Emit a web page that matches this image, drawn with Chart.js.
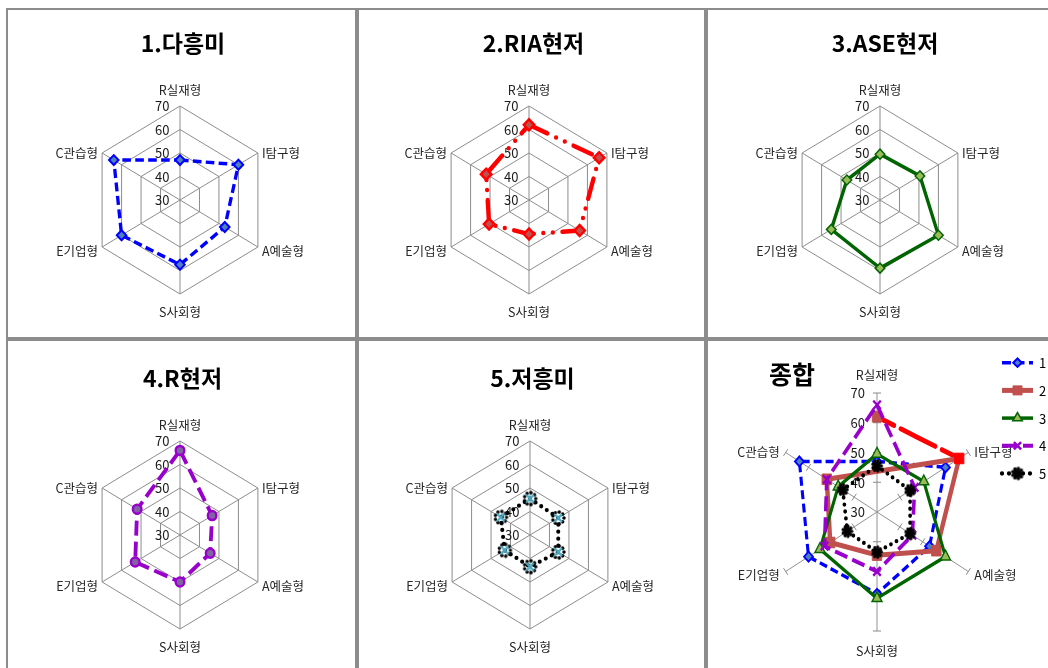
<!DOCTYPE html>
<html lang="ko">
<head>
<meta charset="utf-8">
<title>흥미 유형 집단별 프로파일</title>
<script src="https://cdn.jsdelivr.net/npm/chart.js@4.4.1/dist/chart.umd.min.js"></script>
<style>
  html, body { margin: 0; padding: 0; background: #fff; width: 1048px; height: 668px; overflow: hidden; position: relative; }
  .panel { position: absolute; box-sizing: border-box; border: 2px solid #8c8c8c; background: #fff; overflow: hidden; }
  .panel canvas { display: block; }
</style>
</head>
<body>
<div class="panel" style="left:6px;top:8px;width:351px;height:331px"><canvas id="c1"></canvas></div>
<div class="panel" style="left:357px;top:8px;width:349px;height:331px"><canvas id="c2"></canvas></div>
<div class="panel" style="left:706px;top:8px;width:350px;height:331px"><canvas id="c3"></canvas></div>
<div class="panel" style="left:6px;top:339px;width:351px;height:340px"><canvas id="c4"></canvas></div>
<div class="panel" style="left:357px;top:339px;width:349px;height:340px"><canvas id="c5"></canvas></div>
<div class="panel" style="left:706px;top:339px;width:350px;height:340px"><canvas id="c6"></canvas></div>
<script>
// RIASEC axes, clockwise from the top
const categories = ['R실재형', 'I탐구형', 'A예술형', 'S사회형', 'E기업형', 'C관습형'];
// radial scale ticks
const tickValues = [30, 40, 50, 60, 70];
// series names (legend) and panel titles
const seriesNames = ['1', '2', '3', '4', '5'];
const groupTitles = ['1.다흥미', '2.RIA현저', '3.ASE현저', '4.R현저', '5.저흥미'];
const summaryTitle = '종합';

// mean scores of each group on the six types
const group1 = [47, 60, 53, 57.5, 60, 64];
const group2 = [62, 66, 56, 44.5, 50.5, 52];
const group3 = [49.5, 50.5, 60, 59, 55, 47];
const group4 = [66, 46.5, 45.5, 50, 53, 52];
const group5 = [45.5, 44.5, 44.5, 43.5, 43, 45];
const groupValues = [group1, group2, group3, group4, group5];

const FONT = '"Noto Sans CJK KR", "Noto Sans", sans-serif';

// ---- custom marker bitmaps ----
function makeMarker(size, paint) {
  const c = document.createElement('canvas');
  c.width = c.height = size;
  paint(c.getContext('2d'), size / 2);
  return c;
}
function dotRing(g, m, ringR, dotR, n) {
  g.fillStyle = '#000';
  for (let k = 0; k < n; k++) {
    const a = k / n * Math.PI * 2;
    g.beginPath();
    g.arc(m + ringR * Math.cos(a), m + ringR * Math.sin(a), dotR, 0, Math.PI * 2);
    g.fill();
  }
}
const cyanCross = makeMarker(18, (g, m) => {
  dotRing(g, m, 6, 1.8, 9);
  g.strokeStyle = '#4BACC6';
  g.lineWidth = 2.4;
  g.beginPath();
  g.moveTo(m - 4, m - 4); g.lineTo(m + 4, m + 4);
  g.moveTo(m + 4, m - 4); g.lineTo(m - 4, m + 4);
  g.stroke();
});
const blackBlob = makeMarker(16, (g, m) => {
  dotRing(g, m, 5, 1.8, 9);
  g.beginPath(); g.arc(m, m, 4, 0, Math.PI * 2); g.fill();
});

const DASH_DOT = [21, 10, 0, 10, 0, 10];

// line / marker styles for the single-group panels
const singleStyles = [
  { color: '#0000FF', width: 3.5, dash: [9, 4.5], cap: 'butt', point: 'rectRot', radius: 5, fill: '#4F81BD', edge: '#0000FF', edgeWidth: 2 },
  { color: '#FF0000', width: 4.5, dash: DASH_DOT, cap: 'round', point: 'rectRot', radius: 5.5, fill: '#C0504D', edge: '#FF0000', edgeWidth: 2.5 },
  { color: '#006400', width: 3.5, dash: [], cap: 'butt', point: 'rectRot', radius: 5, fill: '#9BBB59', edge: '#006400', edgeWidth: 1.5 },
  { color: '#9900CC', width: 4, dash: [15, 6], cap: 'butt', point: 'circle', radius: 4.5, fill: '#8064A2', edge: '#9900CC', edgeWidth: 2.5 },
  { color: '#000000', width: 4.3, dash: [0, 7], cap: 'round', point: cyanCross, radius: 6, fill: '#000000', edge: '#000000', edgeWidth: 0 }
];
// line / marker styles for the combined panel
const summaryStyles = [
  singleStyles[0],
  { color: '#C0504D', width: 5, dash: [], cap: 'butt', point: 'rect', radius: 7.5, fill: '#C0504D', edge: '#C0504D', edgeWidth: 1,
    firstSegment: { color: '#FF0000', dash: DASH_DOT, cap: 'round' }, accentIndex: 1, accentColor: '#FF0000' },
  { color: '#006400', width: 3.5, dash: [], cap: 'butt', point: 'triangle', radius: 6.5, fill: '#9BBB59', edge: '#006400', edgeWidth: 1.5 },
  { color: '#9900CC', width: 4, dash: [15, 6], cap: 'butt', point: 'crossRot', radius: 6, fill: '#9900CC', edge: '#9900CC', edgeWidth: 2.5 },
  { color: '#000000', width: 4.3, dash: [0, 7], cap: 'round', point: blackBlob, radius: 6, fill: '#000000', edge: '#000000', edgeWidth: 0 }
];

function makeDataset(i, st) {
  const data = groupValues[i];
  const ds = {
    label: seriesNames[i],
    data: data,
    borderColor: st.color,
    borderWidth: st.width,
    borderDash: st.dash,
    borderCapStyle: st.cap,
    borderJoinStyle: 'round',
    backgroundColor: 'rgba(0,0,0,0)',
    fill: false,
    clip: false,
    pointStyle: st.point,
    pointRadius: st.radius,
    pointHoverRadius: st.radius,
    pointBackgroundColor: st.fill,
    pointBorderColor: st.edge,
    pointBorderWidth: st.edgeWidth,
    order: 10 - i
  };
  if (st.accentIndex !== undefined) {
    ds.pointBackgroundColor = data.map((v, k) => k === st.accentIndex ? st.accentColor : st.fill);
    ds.pointBorderColor = data.map((v, k) => k === st.accentIndex ? st.accentColor : st.edge);
  }
  if (st.firstSegment) {
    const f = st.firstSegment;
    ds.segment = {
      borderColor: c => c.p0DataIndex === 0 ? f.color : undefined,
      borderDash: c => c.p0DataIndex === 0 ? f.dash : undefined,
      borderCapStyle: c => c.p0DataIndex === 0 ? f.cap : undefined
    };
  }
  return ds;
}

// radar lines do not pick up per-segment styling by themselves; hand it to the line element
const segmentStyling = {
  id: 'segmentStyling',
  afterDatasetUpdate(chart, args) {
    const ds = chart.data.datasets[args.index];
    if (!ds.segment) return;
    try {
      const line = args.meta.dataset;
      const seg = args.meta.controller.options.segment;
      line._chart = chart;
      line._datasetIndex = args.index;
      line.options = Object.assign({}, line.options, { segment: seg });
      delete line._segments;
      delete line._path;
    } catch (e) { /* keep the plain line */ }
  }
};

// draws the slightly wide radar, axis text, titles and the legend
const radarDecor = {
  id: 'radarDecor',
  beforeDraw(chart, args, o) {
    const s = chart.scales.r, ctx = chart.ctx;
    ctx.save();
    ctx.translate(s.xCenter, 0);
    ctx.scale(o.sx, 1);
    ctx.translate(-s.xCenter, 0);
  },
  beforeDatasetsDraw(chart, args, o) {
    const s = chart.scales.r, ctx = chart.ctx;
    const cx = s.xCenter;
    const n = chart.data.labels.length;
    const sq = p => ({ x: cx + (p.x - cx) * o.sx, y: p.y });
    ctx.save();
    const dpr = chart.currentDevicePixelRatio || 1;
    ctx.setTransform(dpr, 0, 0, dpr, 0, 0);

    if (o.tickMarks) {
      ctx.strokeStyle = '#8a8a8a';
      ctx.lineWidth = 1;
      for (let i = 0; i < n; i++) {
        const end = sq(s.getPointPositionForValue(i, s.max));
        let dx = end.x - cx, dy = end.y - s.yCenter;
        const len = Math.hypot(dx, dy); dx /= len; dy /= len;
        s.ticks.forEach(t => {
          if (t.value <= s.min) return;
          const p = sq(s.getPointPositionForValue(i, t.value));
          ctx.beginPath();
          ctx.moveTo(p.x - dy * o.tickMarks, p.y + dx * o.tickMarks);
          ctx.lineTo(p.x + dy * o.tickMarks, p.y - dx * o.tickMarks);
          ctx.stroke();
        });
      }
    }

    ctx.fillStyle = '#1a1a1a';
    ctx.font = '13px ' + FONT;
    ctx.textAlign = 'right';
    ctx.textBaseline = 'middle';
    s.ticks.forEach(t => {
      const p = s.getPointPositionForValue(0, t.value);
      ctx.fillText(String(t.value), cx - o.tickGap, p.y + 0.5);
    });

    ctx.font = '12.5px ' + FONT;
    ctx.fillStyle = '#262626';
    chart.data.labels.forEach((lab, i) => {
      const p = sq(s.getPointPositionForValue(i, s.max));
      if (i === 0) {
        ctx.textAlign = 'center'; ctx.fillText(lab, p.x, p.y - o.labelTop);
      } else if (i * 2 === n) {
        ctx.textAlign = 'center'; ctx.fillText(lab, p.x, p.y + o.labelBottom);
      } else {
        const upper = p.y < s.yCenter;
        const dy = upper ? o.labelDyUpper : o.labelDyLower;
        if (i * 2 < n) { ctx.textAlign = 'left'; ctx.fillText(lab, p.x + o.labelSide, p.y + dy); }
        else { ctx.textAlign = 'right'; ctx.fillText(lab, p.x - o.labelSide, p.y + dy); }
      }
    });
    ctx.restore();
  },
  afterDatasetsDraw(chart) {
    chart.ctx.restore();
  },
  afterDraw(chart, args, o) {
    const ctx = chart.ctx;
    ctx.save();
    ctx.fillStyle = '#000';
    ctx.textBaseline = 'middle';
    ctx.textAlign = 'center';
    ctx.font = 'bold ' + o.titleSize + 'px ' + FONT;
    ctx.fillText(o.title, o.titleX, o.titleY);

    if (o.legend) {
      const L = o.legend;
      chart.data.datasets.forEach((ds, i) => {
        const y = L.y0 + i * L.step;
        ctx.save();
        ctx.strokeStyle = ds.borderColor;
        ctx.lineWidth = ds.borderWidth;
        ctx.lineCap = ds.borderCapStyle;
        ctx.setLineDash(ds.borderDash || []);
        ctx.beginPath(); ctx.moveTo(L.x0, y); ctx.lineTo(L.x1, y); ctx.stroke();
        ctx.setLineDash([]);
        const st = summaryStyles[i];
        ctx.fillStyle = st.fill;
        ctx.strokeStyle = st.edge;
        ctx.lineWidth = st.edgeWidth;
        const mx = (L.x0 + L.x1) / 2;
        if (Chart.helpers && Chart.helpers.drawPoint) {
          Chart.helpers.drawPoint(ctx, { pointStyle: st.point, radius: st.radius * 0.85, rotation: 0, borderWidth: st.edgeWidth }, mx, y);
        }
        ctx.restore();
        ctx.fillStyle = '#000';
        ctx.textAlign = 'left';
        ctx.font = '13px ' + FONT;
        ctx.fillText(ds.label, L.tx, y + 0.5);
      });
    }
    ctx.restore();
  }
};

function buildPanel(p) {
  const canvas = document.getElementById(p.id);
  canvas.width = p.w;
  canvas.height = p.h;
  canvas.style.width = p.w + 'px';
  canvas.style.height = p.h + 'px';
  const step = tickValues[1] - tickValues[0];
  new Chart(canvas, {
    type: 'radar',
    data: { labels: categories, datasets: p.datasets },
    plugins: [segmentStyling, radarDecor],
    options: {
      responsive: false,
      animation: false,
      events: [],
      layout: { padding: { left: p.cx - p.R, top: p.cy - p.R, right: p.w - p.cx - p.R, bottom: p.h - p.cy - p.R } },
      elements: { line: { tension: 0 } },
      plugins: {
        legend: { display: false },
        title: { display: false },
        tooltip: { enabled: false },
        radarDecor: {
          sx: p.sx, title: p.title, titleX: p.titleX, titleY: p.titleY, titleSize: p.titleSize,
          tickGap: p.tickGap, labelTop: p.labelTop, labelBottom: p.labelBottom, labelSide: p.labelSide,
          labelDyUpper: p.labelDyUpper, labelDyLower: p.labelDyLower,
          tickMarks: p.tickMarks || 0, legend: p.legend || null
        }
      },
      scales: {
        r: {
          min: tickValues[0],
          max: tickValues[tickValues.length - 1],
          startAngle: 0,
          ticks: { display: false, stepSize: step },
          pointLabels: { display: false },
          grid: { display: !p.summary, color: '#8a8a8a', lineWidth: 1 },
          angleLines: { display: true, color: '#8a8a8a', lineWidth: 1 }
        }
      }
    }
  });
}

const smallGeom = { R: 94, sx: 0.957, titleSize: 23, tickGap: 10.5, labelTop: 16, labelBottom: 18, labelSide: 4, labelDyUpper: 0.5, labelDyLower: 4 };
const panels = [
  Object.assign({ id: 'c1', w: 347, h: 327, cx: 172, cy: 190, titleX: 175, titleY: 33.5 }, smallGeom),
  Object.assign({ id: 'c2', w: 345, h: 327, cx: 170, cy: 190, titleX: 174.5, titleY: 33.5 }, smallGeom),
  Object.assign({ id: 'c3', w: 346, h: 327, cx: 172, cy: 190, titleX: 177, titleY: 33.5 }, smallGeom),
  Object.assign({ id: 'c4', w: 347, h: 336, cx: 172, cy: 194, titleX: 174.5, titleY: 37.5 }, smallGeom),
  Object.assign({ id: 'c5', w: 345, h: 336, cx: 171, cy: 194, titleX: 173.5, titleY: 37.5 }, smallGeom)
];
panels.forEach((p, i) => {
  p.title = groupTitles[i];
  p.datasets = [makeDataset(i, singleStyles[i])];
  buildPanel(p);
});

buildPanel({
  id: 'c6', w: 346, h: 336, cx: 169, cy: 171, R: 119, sx: 0.886, summary: true,
  title: summaryTitle, titleX: 84, titleY: 33.5, titleSize: 25,
  tickGap: 12, labelTop: 18, labelBottom: 20.5, labelSide: 6, labelDyUpper: 0, labelDyLower: 3.5,
  tickMarks: 4,
  legend: { x0: 294, x1: 325, tx: 331, y0: 21.7, step: 27.7 },
  datasets: seriesNames.map((n, i) => makeDataset(i, summaryStyles[i]))
});
</script>
</body>
</html>
